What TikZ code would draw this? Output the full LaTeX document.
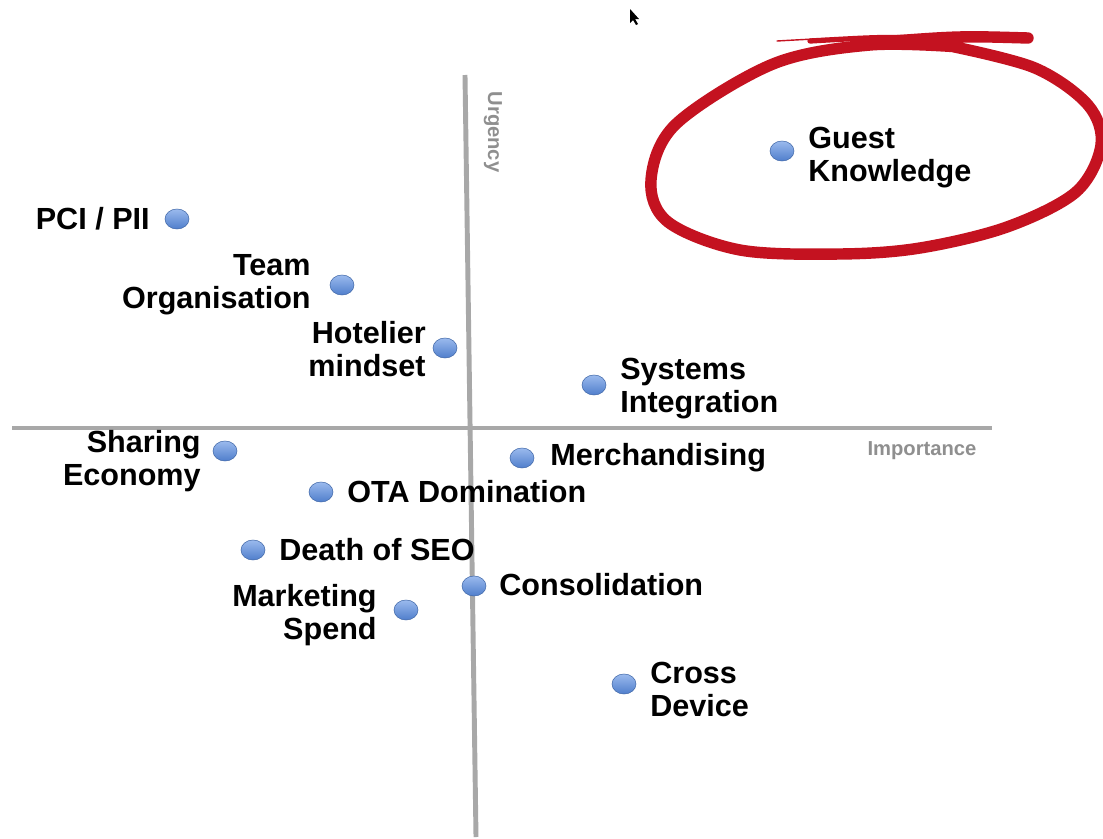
\documentclass[tikz,border=0pt]{standalone}
\usepackage{fontspec}
\setmainfont{Liberation Sans}
\usetikzlibrary{shapes.geometric}
\definecolor{axisgray}{RGB}{168,168,168}
\definecolor{dotblue}{RGB}{88,140,226}
\definecolor{loopred}{RGB}{196,18,32}
\tikzset{
  dot/.style={ellipse, inner sep=0, minimum width=24*0.02cm, minimum height=20*0.02cm,
    top color=dotblue!60!white, bottom color=dotblue!90!black, draw=dotblue!75!black, line width=0.3pt},
  lbl/.style={inner sep=0, font=\fontsize{17.4}{18.8}\selectfont\bfseries},
  axislbl/.style={inner sep=0, text=axisgray!85!black, font=\fontsize{11.5}{12}\selectfont\bfseries}
}
\begin{document}
\begin{tikzpicture}[x=0.02cm,y=-0.02cm]
\useasboundingbox[fill=white] (0,0) rectangle (1103,839);

\coordinate (Ytop) at (465,75);
\coordinate (Ybot) at (476,837);
\coordinate (Xleft) at (12,428);
\coordinate (Xright) at (992,428);
\draw[axisgray, line width=2.8pt] (Ytop)--(Ybot);
\draw[axisgray, line width=2.8pt] (Xleft)--(Xright);
\node[axislbl, rotate=-90] (Urg) at ([shift={+(28,57)}]Ytop) {Urgency};
\node[axislbl] (Imp) at ([shift={+(-70,23)}]Xright) {Importance};

\node[dot] (gk) at (782,151) {};
\node[lbl, anchor=west, align=left] (GK) at ([shift={+(26,7)}]gk) {Guest\\Knowledge};

\node[dot] (pci) at (177,219) {};
\node[lbl, anchor=east] (PCI) at ([shift={+(-27,0)}]pci) {PCI / PII};

\node[dot] (team) at (342,285) {};
\node[lbl, anchor=east, align=right] (TEAM) at ([shift={+(-31,0)}]team) {Team\\Organisation};

\node[dot] (hot) at (445,348) {};
\node[lbl, anchor=east, align=right] (HOT) at ([shift={+(-19,1)}]hot) {Hotelier\\mindset};

\node[dot] (sys) at (594,385) {};
\node[lbl, anchor=west, align=left] (SYS) at ([shift={+(26,4)}]sys) {Systems\\Integration};

\node[dot] (share) at (225,451) {};
\node[lbl, anchor=east, align=right] (SHARE) at ([shift={+(-24,10)}]share) {Sharing\\Economy};

\node[dot] (merch) at (522,458) {};
\node[lbl, anchor=west] (MERCH) at ([shift={+(28,0)}]merch) {Merchandising};

\node[dot] (ota) at (321,492) {};
\node[lbl, anchor=west] (OTA) at ([shift={+(26,0)}]ota) {OTA Domination};

\node[dot] (seo) at (253,550) {};
\node[lbl, anchor=west] (SEO) at ([shift={+(26,0)}]seo) {Death of SEO};

\node[dot] (cons) at (474,586) {};
\node[lbl, anchor=west] (CONS) at ([shift={+(25,-1)}]cons) {Consolidation};

\node[dot] (mkt) at (406,610) {};
\node[lbl, anchor=east, align=right] (MKT) at ([shift={+(-29,5)}]mkt) {Marketing\\Spend};

\node[dot] (cross) at (624,684) {};
\node[lbl, anchor=west, align=left] (CROSS) at ([shift={+(26,5)}]cross) {Cross\\Device};

\coordinate (tail) at (777,41);
\coordinate (tip) at (1028,38);
\draw[loopred, line width=0.8pt, line cap=round] (tail) .. controls (830,38) .. (880,39);
\draw[loopred, line width=3pt, line cap=round] (810,41) .. controls (880,37) .. (930,38);
\draw[loopred, line width=6.5pt, line cap=round] (880,42) .. controls (960,36) .. (tip);
\draw[loopred, line width=6.5pt, line cap=round] plot[smooth, tension=0.55] coordinates
  {(950,46) (1035,68) (1088,105) (1101,145) (1076,192) (1007,227) (920,248) (840,254) (740,250) (668,222) (651,180) (676,124) (773,64) (870,45) (960,47)};

\coordinate (cursor) at (630,9);
\fill[black] (cursor) -- ++(0,14) -- ++(3,-3) -- ++(3,5) -- ++(2,-1) -- ++(-3,-5) -- ++(4,0) -- cycle;
\end{tikzpicture}
\end{document}
